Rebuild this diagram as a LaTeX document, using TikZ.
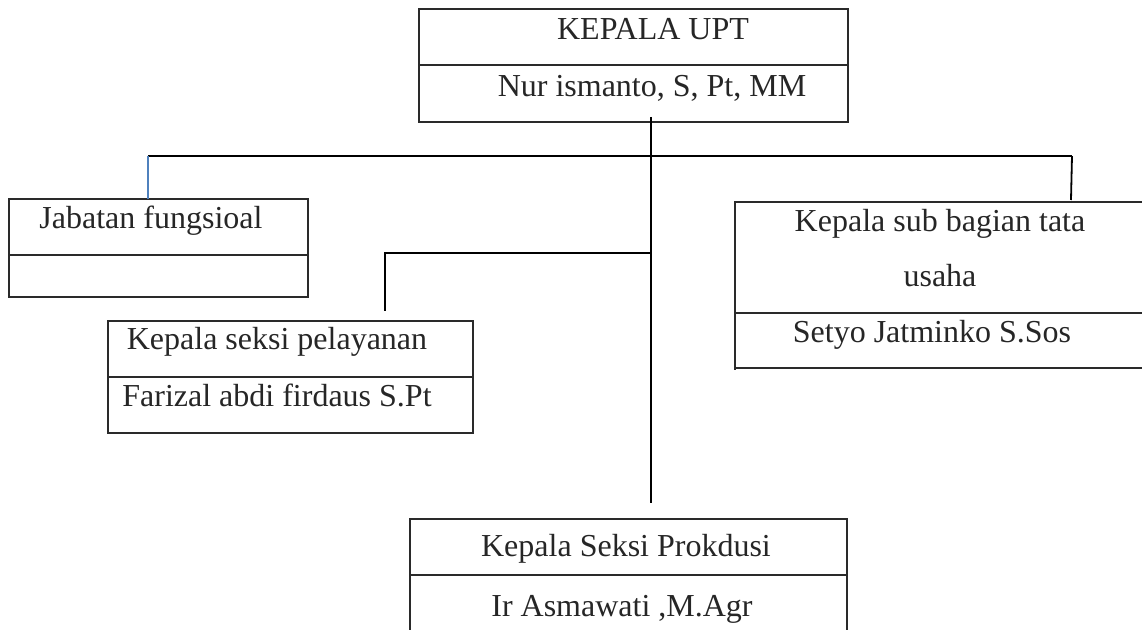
\documentclass[tikz,border=0pt]{standalone}
\usepackage{fontspec}
\setmainfont{Liberation Serif}
\definecolor{boxgray}{HTML}{2A2A2A}
\definecolor{linkblue}{HTML}{4F81BD}
\begin{document}
\begin{tikzpicture}[x=0.5pt,y=-0.5pt,
  boxline/.style={draw=boxgray,line width=0.65pt},
  conn/.style={draw=black,line width=0.9pt},
  txt/.style={inner sep=0pt,anchor=base,font=\fontsize{16}{19}\selectfont,text=black!85}]
\useasboundingbox (0,0) rectangle (1142,630);
% top box
\draw[boxline] (419,9) rectangle (848,122);
\draw[boxline] (419,65) -- (848,65);
\node[txt] (uptT) at (653,40) {KEPALA UPT};
\node[txt] (uptN) at (652,97) {Nur ismanto, S, Pt, MM};
% jabatan box
\draw[boxline] (9,199) rectangle (308,297);
\draw[boxline] (9,255) -- (308,255);
\node[txt] (jab) at (151,229) {Jabatan fungsioal};
% right box (no right border)
\draw[boxline,line width=0.9pt] (1142,202) -- (735,202) -- (735,370);
\draw[boxline,line width=0.9pt] (735,313) -- (1142,313);
\draw[boxline,line width=0.9pt] (735,368) -- (1142,368);
\node[txt] (subT1) at (940,232) {Kepala sub bagian tata};
\node[txt] (subT2) at (940,287) {usaha};
\node[txt] (subN) at (932,343) {Setyo Jatminko S.Sos};
% pelayanan box
\draw[boxline,line width=0.9pt] (108,321) rectangle (473,433);
\draw[boxline,line width=0.9pt] (108,377) -- (473,377);
\node[txt] (pelT) at (277,350) {Kepala seksi pelayanan};
\node[txt] (pelN) at (277,407) {Farizal abdi firdaus S.Pt};
% produksi box (open at bottom)
\draw[boxline,line width=0.9pt] (410,630) -- (410,519) -- (847,519) -- (847,630);
\draw[boxline,line width=0.9pt] (410,575) -- (847,575);
\node[txt] (proT) at (626,557) {Kepala Seksi Prokdusi};
\node[txt] (proN) at (622,617) {Ir Asmawati ,M.Agr};
% connector points
\coordinate (trunkTop) at (651,117);
\coordinate (trunkBot) at (651,503);
\coordinate (busL) at (148,156);
\coordinate (busM) at (651,156);
\coordinate (busR) at (1072,156);
\coordinate (jabTop) at (148,199);
\coordinate (subTop) at (1071,200);
\coordinate (pelJ) at (651,253);
\coordinate (pelC) at (385,253);
\coordinate (pelTop) at (385,311);
% connectors
\draw[conn] (trunkTop) -- (trunkBot);
\draw[conn] (busL) -- (busR);
\draw[draw=linkblue,line width=0.8pt] (busL) -- (jabTop);
\draw[conn] (busR) -- (subTop);
\draw[conn] (pelJ) -- (pelC) -- (pelTop);
\end{tikzpicture}
\end{document}
